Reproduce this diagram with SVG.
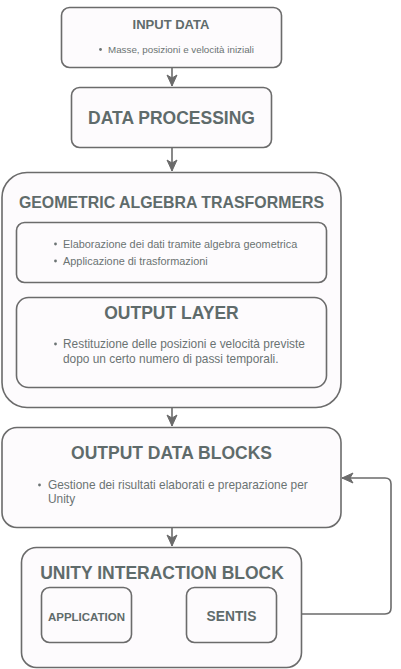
<svg xmlns="http://www.w3.org/2000/svg" width="401" height="669" viewBox="0 0 401 669">
<defs>
<style>
.box{fill:#fdfbfd;stroke:#6b6b6b;stroke-width:1.6}
.t{font-family:"Liberation Sans",Arial,sans-serif;font-weight:bold;fill:#5f6b6b;text-anchor:middle}
.b{font-family:"Liberation Sans",Arial,sans-serif;fill:#6b7373}
.c{fill:none;stroke:#6b6b6b;stroke-width:1.6}
</style>
<marker id="ah" markerUnits="userSpaceOnUse" markerWidth="14" markerHeight="12" viewBox="0 0 14 12" refX="12" refY="6" orient="auto-start-reverse">
<path d="M1,1 L12,6 L1,11 L4,6 Z" fill="#6b6b6b" stroke="#6b6b6b" stroke-width="1"/>
</marker>
</defs>
<rect width="401" height="669" fill="#ffffff"/>
<g id="connectors">
<path class="c" d="M172,68 V86" marker-end="url(#ah)"/>
<path class="c" d="M172,148 V171" marker-end="url(#ah)"/>
<path class="c" d="M172,408 V426" marker-end="url(#ah)"/>
<path class="c" d="M172,528 V546" marker-end="url(#ah)"/>
<path class="c" d="M133,614 H185" marker-start="url(#ah)" marker-end="url(#ah)"/>
<path class="c" d="M278,614 H385 Q391,614 391,608 V484 Q391,478 385,478 H342" marker-start="url(#ah)" marker-end="url(#ah)"/>
</g>
<g id="input-data">
<rect class="box" x="61.5" y="7.5" width="220" height="60" rx="8"/>
<text class="t" x="171" y="28.5" font-size="13">INPUT DATA</text>
<circle cx="100.5" cy="49.5" r="1.4" fill="#6b7373"/>
<text class="b" x="108" y="53" font-size="9.8">Masse, posizioni e velocità iniziali</text>
</g>
<g id="data-processing">
<rect class="box" x="71.5" y="87.5" width="200" height="60" rx="8"/>
<text class="t" x="171.5" y="123.5" font-size="17.5">DATA PROCESSING</text>
</g>
<g id="geometric-algebra">
<rect class="box" x="2" y="172.5" width="339" height="235" rx="25"/>
<text class="t" x="171.5" y="208" font-size="15.9">GEOMETRIC ALGEBRA TRASFORMERS</text>
</g>
<g id="ga-details">
<rect class="box" x="16.5" y="222.5" width="310" height="60" rx="8"/>
<circle cx="55.5" cy="244" r="1.4" fill="#6b7373"/>
<text class="b" x="63" y="247.5" font-size="10.9">Elaborazione dei dati tramite algebra geometrica</text>
<circle cx="55.5" cy="261" r="1.4" fill="#6b7373"/>
<text class="b" x="63" y="264.5" font-size="10.9">Applicazione di trasformazioni</text>
</g>
<g id="output-layer">
<rect class="box" x="16.5" y="297.5" width="310" height="90" rx="12"/>
<text class="t" x="171.5" y="318.5" font-size="17.5">OUTPUT LAYER</text>
<circle cx="55.5" cy="344" r="1.4" fill="#6b7373"/>
<text class="b" x="63" y="348" font-size="11.9">Restituzione delle posizioni e velocità previste</text>
<text class="b" x="63" y="363" font-size="11.9">dopo un certo numero di passi temporali.</text>
</g>
<g id="output-data-blocks">
<rect class="box" x="2" y="427.5" width="339" height="100" rx="15"/>
<text class="t" x="171.5" y="458.5" font-size="17.5">OUTPUT DATA BLOCKS</text>
<circle cx="39.5" cy="485" r="1.4" fill="#6b7373"/>
<text class="b" x="48" y="489" font-size="11.9">Gestione dei risultati elaborati e preparazione per</text>
<text class="b" x="48" y="503" font-size="11.9">Unity</text>
</g>
<g id="unity-interaction-block">
<rect class="box" x="21.5" y="547.5" width="280" height="120" rx="15"/>
<text class="t" x="162" y="578.5" font-size="17.5">UNITY INTERACTION BLOCK</text>
</g>
<g id="application">
<rect class="box" x="41.5" y="587.5" width="90" height="55" rx="8"/>
<text class="t" x="86.5" y="621" font-size="11.5">APPLICATION</text>
</g>
<g id="sentis">
<rect class="box" x="186.5" y="587.5" width="90" height="55" rx="8"/>
<text class="t" x="231.5" y="621" font-size="13.8">SENTIS</text>
</g>
</svg>
